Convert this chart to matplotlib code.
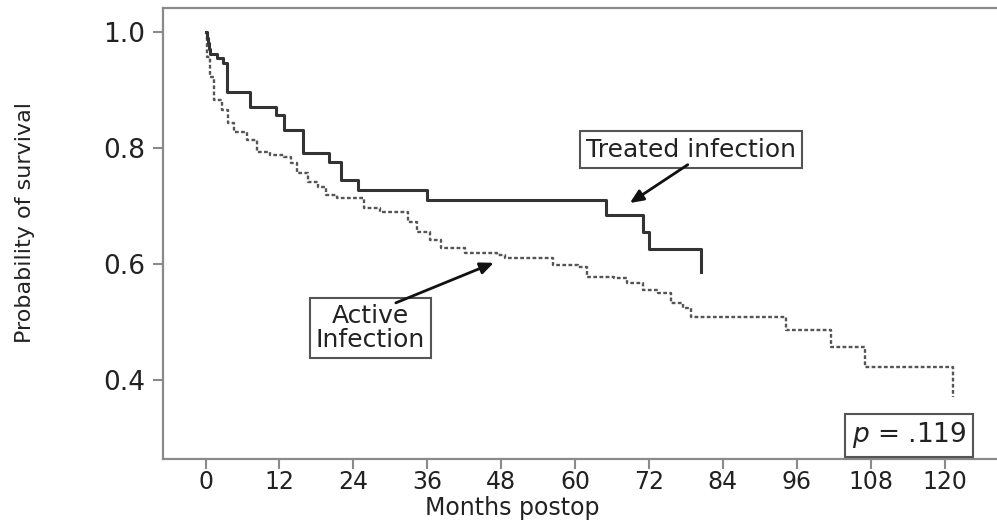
import matplotlib
matplotlib.use("Agg")
import matplotlib.pyplot as plt

# Kaplan-Meier step data (months, survival)
treated_t = [0, 0.2, 0.4, 0.6, 0.8, 1.8, 2.8, 3.5, 7.3, 11.4, 12.7, 15.8,
             20.0, 22.0, 24.8, 36.0, 65.0, 71.0, 72.0, 80.4]
treated_s = [1.0, 0.99, 0.98, 0.97, 0.962, 0.955, 0.947, 0.897, 0.871, 0.857,
             0.831, 0.791, 0.776, 0.745, 0.728, 0.71, 0.684, 0.655, 0.626, 0.586]

active_t = [0, 0.3, 0.8, 1.3, 2.7, 3.6, 4.6, 6.8, 8.4, 10.5, 12.7, 13.8, 14.9,
            16.6, 18.2, 19.5, 21.4, 25.7, 28.4, 32.8, 34.4, 36.5, 38.2, 42.2,
            47.4, 48.6, 56.5, 60.4, 62.0, 66.3, 68.5, 71.0, 73.4, 75.5, 77.6,
            78.8, 94.2, 101.5, 107.0, 121.3]
active_s = [1.0, 0.957, 0.922, 0.883, 0.866, 0.843, 0.828, 0.814, 0.793, 0.788,
            0.785, 0.774, 0.757, 0.741, 0.733, 0.719, 0.714, 0.697, 0.69, 0.672,
            0.655, 0.641, 0.628, 0.619, 0.616, 0.61, 0.598, 0.595, 0.578, 0.576,
            0.567, 0.555, 0.55, 0.533, 0.524, 0.509, 0.486, 0.457, 0.422, 0.371]

x_ticks = [0, 12, 24, 36, 48, 60, 72, 84, 96, 108, 120]
y_ticks = [0.4, 0.6, 0.8, 1.0]

plt.rcParams['font.family'] = ['DejaVu Sans']

fig = plt.figure(figsize=(9.97, 5.22), dpi=100)
ax = fig.add_axes([0.1635, 0.1207, 0.842, 0.864])

ax.plot(active_t, active_s, drawstyle='steps-post', color='#555555',
        lw=1.7, linestyle=(0, (1.6, 1.0)))
ax.plot(treated_t, treated_s, drawstyle='steps-post', color='#333333',
        lw=2.2)

ax.set_xlim(-6.9, 129.4)
ax.set_ylim(0.264, 1.041)
ax.set_xticks(x_ticks)
ax.set_yticks(y_ticks)
ax.set_yticklabels(['0.4', '0.6', '0.8', '1.0'])

gray = '#8a8a8a'
for side in ['left', 'top', 'bottom']:
    ax.spines[side].set_color(gray)
    ax.spines[side].set_linewidth(1.6)
ax.spines['right'].set_visible(False)

ax.tick_params(axis='both', direction='out', length=7, width=1.5,
               color=gray, labelcolor='#222222')
ax.tick_params(axis='x', labelsize=17, pad=1)
ax.tick_params(axis='y', labelsize=19, pad=6)

ax.set_xlabel('Months postop', fontsize=17, color='#222222')
ax.xaxis.set_label_coords(0.4157, -0.083)
ax.set_ylabel('Probability of survival', fontsize=16, color='#222222')
ax.yaxis.set_label_coords(-0.152, 0.525)

box = dict(boxstyle='square,pad=0.25', fc='white', ec='#555555', lw=1.5)
arrow = dict(arrowstyle='-|>,head_length=0.8,head_width=0.35',
             color='#111111', lw=2, shrinkA=0, shrinkB=0)

ax.text(78.8, 0.797, 'Treated infection', fontsize=18, ha='center',
        va='center', bbox=box, color='#222222')
ax.annotate('', xy=(68.9, 0.705), xytext=(78.3, 0.771), arrowprops=arrow)

ax.text(26.8, 0.49, 'Active\nInfection', fontsize=18, ha='center',
        va='center', bbox=box, color='#222222', linespacing=1.0)
ax.annotate('', xy=(46.8, 0.602), xytext=(30.9, 0.533), arrowprops=arrow)

ax.text(114.2, 0.305, '$p$ = .119', fontsize=19, ha='center', va='center',
        bbox=box, color='#222222')

fig.savefig('out.png', dpi=100)
